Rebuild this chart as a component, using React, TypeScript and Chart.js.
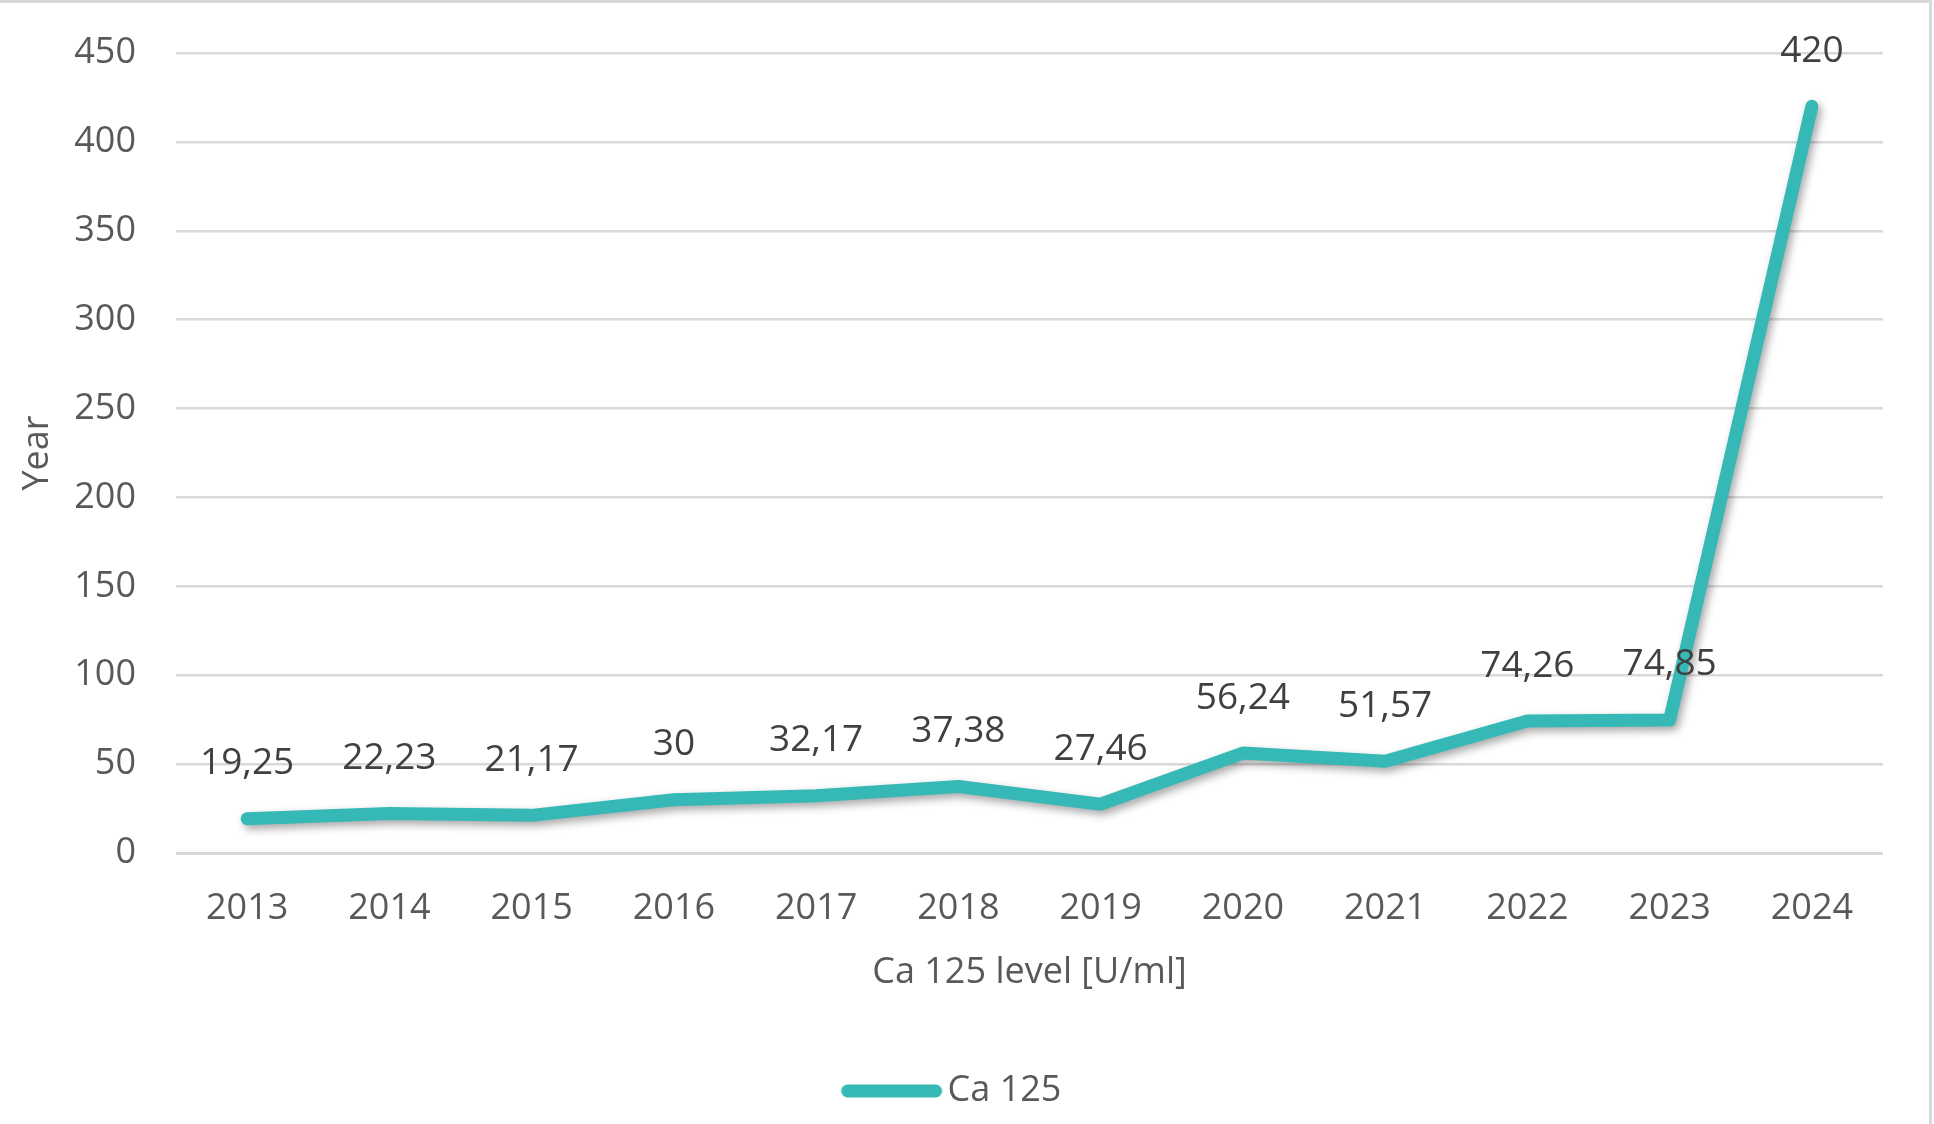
import { useRef, useEffect } from 'react';
import { Chart, registerables, type ChartConfiguration, type Plugin } from 'chart.js';

Chart.register(...registerables);

const years = ['2013', '2014', '2015', '2016', '2017', '2018', '2019', '2020', '2021', '2022', '2023', '2024'];
const ca125 = [19.25, 22.23, 21.17, 30, 32.17, 37.38, 27.46, 56.24, 51.57, 74.26, 74.85, 420];
const seriesName = 'Ca 125';
const xTitle = 'Ca 125 level [U/ml]';
const yTitle = 'Year';

const FONT = "'Open Sans', sans-serif";
const TEAL = '#36b9b6';
const SIZE = 36;

// soft drop shadow under the line, like the office chart
const shadowPlugin: Plugin<'line'> = {
    id: 'lineShadow',
    beforeDatasetsDraw(chart) {
        const ctx = chart.ctx;
        ctx.save();
        ctx.shadowColor = 'rgba(0,0,0,0.35)';
        ctx.shadowBlur = 8;
        ctx.shadowOffsetX = 3;
        ctx.shadowOffsetY = 4;
    },
    afterDatasetsDraw(chart) {
        chart.ctx.restore();
    }
};

// value labels above each point, decimal comma
const valueLabels: Plugin<'line'> = {
    id: 'valueLabels',
    afterDraw(chart) {
        const ctx = chart.ctx;
        const meta = chart.getDatasetMeta(0);
        ctx.save();
        ctx.font = `37px ${FONT}`;
        ctx.fillStyle = '#404040';
        ctx.textAlign = 'center';
        ctx.textBaseline = 'middle';
        meta.data.forEach((pt, i) => {
            const txt = String(ca125[i]).replace('.', ',');
            ctx.fillText(txt, pt.x, pt.y - 55);
        });
        ctx.restore();
    }
};

// legend swatch: a thick rounded line that sits close to the text
function makeSwatch() {
    const c = document.createElement('canvas');
    c.width = 160;
    c.height = 20;
    const g = c.getContext('2d');
    if (g) {
        g.strokeStyle = TEAL;
        g.lineWidth = 13;
        g.lineCap = 'round';
        g.beginPath();
        g.moveTo(48, 10);
        g.lineTo(136, 10);
        g.stroke();
    }
    return c;
}

export default function App() {
    const chartRef = useRef<HTMLCanvasElement>(null);

    useEffect(() => {
        document.body.style.margin = '0';
        if (!chartRef.current) return;
        const swatch = makeSwatch();
        const config = {
            type: 'line',
            data: {
                labels: years,
                datasets: [{
                    label: seriesName,
                    data: ca125,
                    borderColor: TEAL,
                    backgroundColor: TEAL,
                    borderWidth: 13,
                    borderCapStyle: 'round',
                    borderJoinStyle: 'round',
                    pointRadius: 0,
                    tension: 0
                }]
            },
            options: {
                animation: false,
                responsive: true,
                maintainAspectRatio: false,
                layout: {
                    padding: { top: 53, right: 51, bottom: 5, left: 8 }
                },
                plugins: {
                    tooltip: { enabled: false },
                    legend: {
                        position: 'bottom',
                        labels: {
                            usePointStyle: true,
                            pointStyle: swatch,
                            pointStyleWidth: 100,
                            color: '#595959',
                            font: { size: SIZE, family: FONT },
                            padding: 10
                        }
                    }
                },
                scales: {
                    x: {
                        offset: true,
                        afterFit: (scale: any) => { scale.height = 210; },
                        grid: { display: false, drawTicks: false },
                        border: { display: false },
                        ticks: {
                            color: '#595959',
                            font: { size: SIZE, family: FONT },
                            padding: 34,
                            maxRotation: 0
                        },
                        title: {
                            display: true,
                            text: xTitle,
                            color: '#595959',
                            font: { size: SIZE, family: FONT },
                            padding: { top: 24, bottom: 69 }
                        }
                    },
                    y: {
                        min: 0,
                        max: 450,
                        afterFit: (scale: any) => {
                            scale.width = 168;
                            scale.paddingTop = 0;
                            scale.paddingBottom = 0;
                        },
                        grid: {
                            color: '#d9d9d9',
                            lineWidth: (c: any) => (c.tick && c.tick.value === 0 ? 3 : 2.5),
                            drawTicks: false
                        },
                        border: { display: false },
                        ticks: {
                            stepSize: 50,
                            color: '#595959',
                            font: { size: SIZE, family: FONT },
                            padding: 40
                        },
                        title: {
                            display: true,
                            text: yTitle,
                            color: '#595959',
                            font: { size: SIZE, family: FONT },
                            padding: { top: 8, bottom: 18 }
                        }
                    }
                }
            },
            plugins: [shadowPlugin, valueLabels]
        };
        const chart = new Chart(chartRef.current, config as unknown as ChartConfiguration);
        return () => {
            chart.destroy();
        };
    }, []);

    return (
        <div style={{ position: 'fixed', left: 0, top: 0, width: 1934, height: 1124, background: '#fff' }}>
            <canvas ref={chartRef}></canvas>
            <div style={{ position: 'absolute', left: 0, top: 0, width: 1932, height: 3, background: '#d9d9d9' }} />
            <div style={{ position: 'absolute', left: 1929, top: 0, width: 3, height: 1124, background: '#d9d9d9' }} />
        </div>
    );
}
